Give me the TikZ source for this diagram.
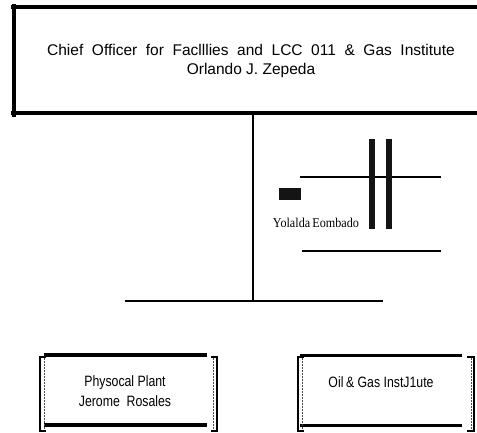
\documentclass[tikz,border=0pt]{standalone}
\usepackage{fontspec}
\setmainfont{Liberation Sans}
\newfontfamily\narrowsans[FakeStretch=0.82]{Liberation Sans}
\newfontfamily\narrowserif[FakeStretch=0.9]{Liberation Serif}

\begin{document}
\begin{tikzpicture}[x=1pt, y=1pt,
    heavy/.style={line width=3.5pt},
    linkline/.style={line width=1.8pt},
    bracketline/.style={line width=1.2pt},
    bracketinner/.style={line width=0.9pt, black!70, dash pattern=on 2pt off 1pt},
    bar/.style={fill=black!92, draw=none}]
    \useasboundingbox (0,0) rectangle (477,432);

    % top box, open on the right
    \draw[heavy] (14,428) -- (14,315);
    \draw[heavy] (11,425) -- (477,425);
    \draw[heavy] (11,319) -- (477,319);
    \node[align=center, font=\fontsize{15.5}{19}\selectfont] (chief) at (251,371.5)
        {{\spaceskip=8.6pt Chief Officer for Faclllies and LCC 011 \& Gas Institute}\\Orlando J. Zepeda};

    % trunk and branch bar
    \coordinate (trunktop) at (253,319);
    \coordinate (trunkbot) at (253,131);
    \coordinate (branchl) at (125,131);
    \coordinate (branchr) at (383,131);
    \draw[linkline] (trunktop) -- (trunkbot);
    \draw[linkline] (branchl) -- (branchr);

    % assistant
    \coordinate (asstl1) at (300,255.3);
    \coordinate (asstr1) at (441,255.3);
    \coordinate (asstl2) at (302,181.3);
    \coordinate (asstr2) at (441,181.3);
    \draw[linkline] (asstl1) -- (asstr1);
    \draw[linkline] (asstl2) -- (asstr2);
    \fill[bar] (369,293) rectangle (375,203);
    \fill[bar] (386,293) rectangle (392,203);
    \fill[bar] (279,244) rectangle (301,232);
    \node[font=\narrowserif\fontsize{13.5}{15}\selectfont] (yolalda) at (316,209.5) {Yolalda\,Eombado};

    % physical plant
    \node[align=center, font=\narrowsans\fontsize{15}{20}\selectfont] (plant) at (125,41.3)
        {Physocal Plant\\Jerome\ \ Rosales};
    \draw[heavy] (44,77) -- (207,77);
    \draw[heavy] (44,7) -- (207,7);
    \draw[bracketline] (46,75) -- (40,75) -- (40,1) -- (46,1);
    \draw[bracketinner] (44,74) -- (44,2);
    \draw[bracketline] (211,75) -- (217,75) -- (217,1) -- (211,1);
    \draw[bracketinner] (213,74) -- (213,2);

    % oil and gas institute
    \node[font=\narrowsans\fontsize{15}{20}\selectfont] (oilgas) at (381,50.3)
        {Oil\,\& Gas InstJ1ute};
    \draw[heavy] (300,76.3) -- (462,76.3);
    \draw[heavy] (300,6.3) -- (462,6.3);
    \draw[bracketline] (304,75) -- (298,75) -- (298,1) -- (304,1);
    \draw[bracketinner] (302,74) -- (302,2);
    \draw[bracketline] (467,75) -- (474,75) -- (474,1) -- (467,1);
    \draw[bracketinner] (471,74) -- (471,2);
\end{tikzpicture}
\end{document}
